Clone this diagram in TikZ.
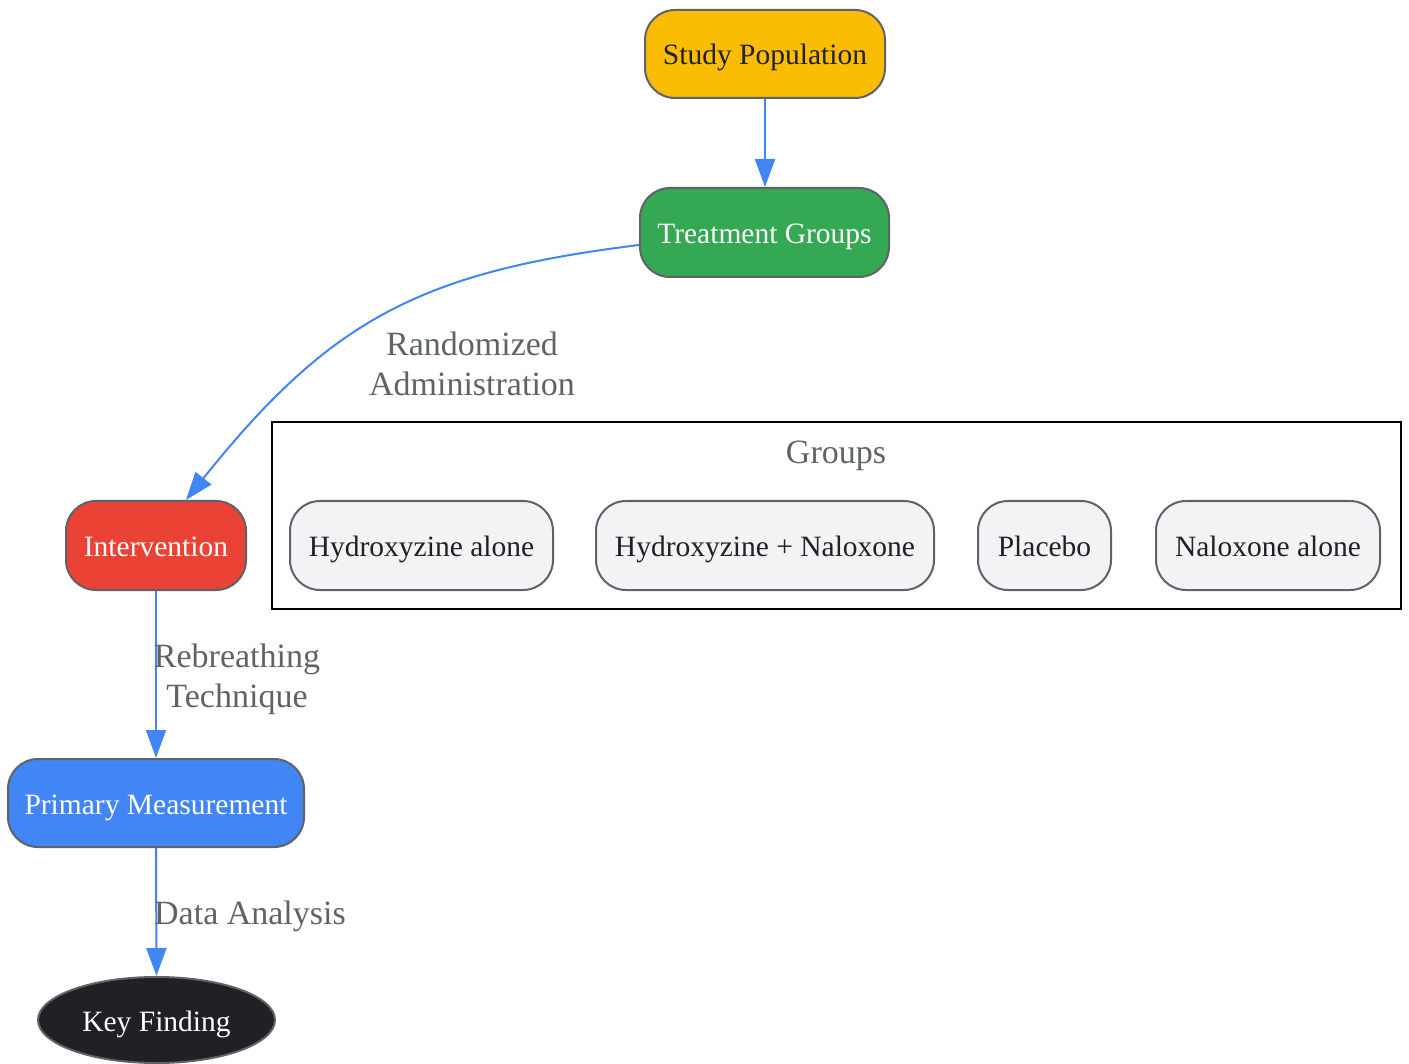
\documentclass[tikz,border=0pt]{standalone}
\usepackage{fontspec}
\setmainfont{Liberation Serif}
\usetikzlibrary{arrows.meta,shapes.geometric}
\definecolor{cyellow}{HTML}{FBBC04}
\definecolor{cgreen}{HTML}{34A853}
\definecolor{cred}{HTML}{EA4335}
\definecolor{cblue}{HTML}{4285F4}
\definecolor{cdark}{HTML}{202124}
\definecolor{clight}{HTML}{F1F3F4}
\definecolor{cborder}{HTML}{5F6368}
\definecolor{clabel}{HTML}{5F6368}
\tikzset{
  box/.style={rectangle, rounded corners=30pt, draw=cborder, line width=2pt, inner sep=0pt,
    minimum height=88pt, font=\fontsize{29.5}{34}\selectfont, align=center,
    text height=30pt, text depth=8pt},
  grp/.style={box, fill=clight, text=cdark},
  edge/.style={draw=cblue, line width=2pt, -{Triangle[length=28pt,width=20pt]}},
  elabel/.style={text=clabel, font=\fontsize{34}{40}\selectfont, align=center, inner sep=0pt}
}
\begin{document}
\begin{tikzpicture}[x=1pt,y=-1pt]
\useasboundingbox (0,0) rectangle (1409,1064);
% group frame
\draw[black, line width=2pt] (272,422) rectangle (1401,609);
\node[elabel] (glabel) at (836,456) {Groups};
% main nodes
\node[box, fill=cyellow, text=cdark, minimum width=240pt] (sp) at (765,54) {Study Population};
\node[box, fill=cgreen, text=white, minimum width=249pt, minimum height=89pt] (tg) at (764.5,232.5) {Treatment Groups};
\node[box, fill=cred, text=white, minimum width=180pt, minimum height=89pt] (iv) at (156,545.5) {Intervention};
\node[box, fill=cblue, text=white, minimum width=296pt] (pm) at (156,803) {Primary Measurement};
\node[ellipse, fill=cdark, draw=cborder, line width=2pt, text=white, inner sep=0pt,
  minimum width=237pt, minimum height=86pt, font=\fontsize{29.5}{34}\selectfont,
  text height=30pt, text depth=8pt] (kf) at (156.5,1020) {Key Finding};
% group nodes
\node[grp, minimum width=263pt, minimum height=89pt] (g1) at (421.5,545.5) {Hydroxyzine alone};
\node[grp, minimum width=338pt, minimum height=89pt] (g2) at (765,545.5) {Hydroxyzine + Naloxone};
\node[grp, minimum width=133pt, minimum height=89pt] (g3) at (1044.5,545.5) {Placebo};
\node[grp, minimum width=224pt, minimum height=89pt] (g4) at (1268,545.5) {Naloxone alone};
% edges
\draw[edge] (sp.south) -- (sp.south |- tg.north);
\draw[edge] ([yshift=-12.5pt]tg.west) .. controls (420,272) and (330,320) .. ([xshift=30pt]iv.north);
\draw[edge] (iv.south) -- (pm.north);
\draw[edge] (pm.south) -- (kf.north);
% edge labels
\node[elabel] (l1) at (472,364) {Randomized\\Administration};
\node[elabel] (l2) at (237,679) {Rebreathing\\Technique};
\node[elabel] (l3) at (250,916) {Data Analysis};
\end{tikzpicture}
\end{document}
